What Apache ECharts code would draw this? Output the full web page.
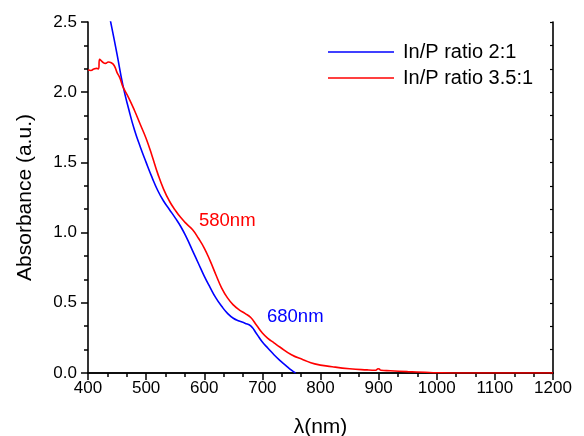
<!DOCTYPE html>
<html>
<head>
<meta charset="utf-8">
<script src="https://cdn.jsdelivr.net/npm/echarts@6/dist/echarts.min.js"></script>
<style>html,body{margin:0;padding:0;background:#fff;overflow:hidden;}#c{width:584px;height:436px;}</style>
</head>
<body>
<div id="c"></div>
<script>
var xTicks = [400, 500, 600, 700, 800, 900, 1000, 1100, 1200];
var yTicks = [0.0, 0.5, 1.0, 1.5, 2.0, 2.5];
var seriesNames = ['In/P ratio 2:1', 'In/P ratio 3.5:1'];
var annotations = ['580nm', '680nm'];

var blueWl = [430, 440, 450, 460, 470, 480, 490, 500, 510, 520, 530, 540, 550, 560, 570, 580, 590, 600, 610, 620, 630, 640, 650, 660, 670, 680, 690, 700, 710, 720, 730, 740, 750, 757];
var blueAbs = [2.68, 2.48, 2.27, 2.05, 1.88, 1.73, 1.61, 1.50, 1.395, 1.30, 1.225, 1.165, 1.105, 1.04, 0.96, 0.87, 0.78, 0.69, 0.61, 0.535, 0.475, 0.425, 0.39, 0.37, 0.355, 0.335, 0.28, 0.22, 0.175, 0.13, 0.09, 0.055, 0.02, 0.0];

var redWl = [400, 405, 410, 415, 418, 420, 425, 430, 435, 440, 445, 450, 455, 460, 470, 480, 490, 500, 510, 520, 530, 540, 550, 560, 570, 580, 590, 600, 610, 620, 630, 640, 650, 660, 670, 680, 690, 700, 710, 720, 730, 750, 770, 790, 820, 850, 880, 895, 899, 901, 904, 920, 950, 980, 1000, 1050, 1200];
var redAbs = [2.16, 2.155, 2.165, 2.17, 2.165, 2.235, 2.215, 2.205, 2.215, 2.21, 2.19, 2.14, 2.10, 2.04, 1.96, 1.87, 1.77, 1.67, 1.55, 1.42, 1.31, 1.225, 1.16, 1.105, 1.06, 1.02, 0.96, 0.89, 0.80, 0.70, 0.605, 0.535, 0.485, 0.45, 0.425, 0.395, 0.34, 0.285, 0.245, 0.215, 0.185, 0.13, 0.095, 0.065, 0.045, 0.03, 0.022, 0.02, 0.03, 0.028, 0.02, 0.016, 0.01, 0.005, 0.002, 0.0, 0.0];

function pairs(xs, ys) { return xs.map(function (x, i) { return [x, ys[i]]; }); }

var FONT = 'Liberation Sans, Arial, Helvetica, sans-serif';
var chart = echarts.init(document.getElementById('c'), null, {renderer: 'canvas', width: 584, height: 436});
var axisLine = {show: true, lineStyle: {color: '#000', width: 1.6}};
chart.setOption({
  animation: false,
  backgroundColor: '#fff',
  grid: {left: 88, right: 31, top: 22, bottom: 63, containLabel: false, outerBoundsMode: 'none'},
  legend: {
    orient: 'vertical', left: 328, top: 42, itemGap: 6, padding: 0,
    itemWidth: 66, itemHeight: 1.5,
    data: [{name: seriesNames[0], icon: 'rect'}, {name: seriesNames[1], icon: 'rect'}],
    textStyle: {fontFamily: FONT, fontSize: 20, color: '#000', padding: [0, 0, 0, 4]}
  },
  xAxis: [{
    type: 'value', min: xTicks[0], max: xTicks[xTicks.length - 1], interval: 100,
    name: 'λ(nm)', nameLocation: 'middle', nameGap: 44,
    nameTextStyle: {fontFamily: FONT, fontSize: 21, color: '#000'},
    axisLine: axisLine,
    axisTick: {show: true, inside: false, length: 7, lineStyle: {color: '#000', width: 1.5}},
    minorTick: {show: true, splitNumber: 3, length: 4, lineStyle: {color: '#000', width: 1.5}},
    axisLabel: {fontFamily: FONT, fontSize: 17, color: '#000', margin: 7, formatter: function (v) { return String(v); }},
    splitLine: {show: false}
  }, {
    type: 'value', position: 'top', min: xTicks[0], max: xTicks[xTicks.length - 1], interval: 100,
    axisLine: axisLine, axisTick: {show: false}, axisLabel: {show: false}, splitLine: {show: false}
  }],
  yAxis: [{
    type: 'value', min: yTicks[0], max: yTicks[yTicks.length - 1], interval: 0.5,
    name: 'Absorbance (a.u.)', nameLocation: 'middle', nameGap: 52,
    nameTextStyle: {fontFamily: FONT, fontSize: 21, color: '#000'},
    axisLine: axisLine,
    axisTick: {show: true, inside: false, length: 7, lineStyle: {color: '#000', width: 1.5}},
    minorTick: {show: true, splitNumber: 3, length: 4, lineStyle: {color: '#000', width: 1.5}},
    axisLabel: {fontFamily: FONT, fontSize: 17, color: '#000', margin: 11, formatter: function (v) { return v.toFixed(1); }},
    splitLine: {show: false}
  }, {
    type: 'value', position: 'right', min: yTicks[0], max: yTicks[yTicks.length - 1], interval: 0.5,
    axisLine: axisLine,
    axisTick: {show: true, inside: true, length: 3, lineStyle: {color: '#000', width: 1.2}},
    minorTick: {show: true, splitNumber: 3, length: 3, lineStyle: {color: '#000', width: 1.2}},
    axisLabel: {show: false}, splitLine: {show: false}
  }],
  series: [{
    name: seriesNames[0], type: 'line', data: pairs(blueWl, blueAbs), smooth: 0.5,
    showSymbol: false, symbol: 'none', clip: true,
    lineStyle: {color: '#0000ff', width: 1.6}, itemStyle: {color: '#0000ff'}
  }, {
    name: seriesNames[1], type: 'line', data: pairs(redWl, redAbs), smooth: 0.5,
    showSymbol: false, symbol: 'none', clip: true,
    lineStyle: {color: '#ff0000', width: 1.6}, itemStyle: {color: '#ff0000'}
  }],
  graphic: [
    {type: 'text', left: 199, top: 211, style: {text: annotations[0], fill: '#ff0000', font: '18.5px ' + FONT}},
    {type: 'text', left: 267, top: 307, style: {text: annotations[1], fill: '#0000ff', font: '18.5px ' + FONT}}
  ]
});
</script>
</body>
</html>
